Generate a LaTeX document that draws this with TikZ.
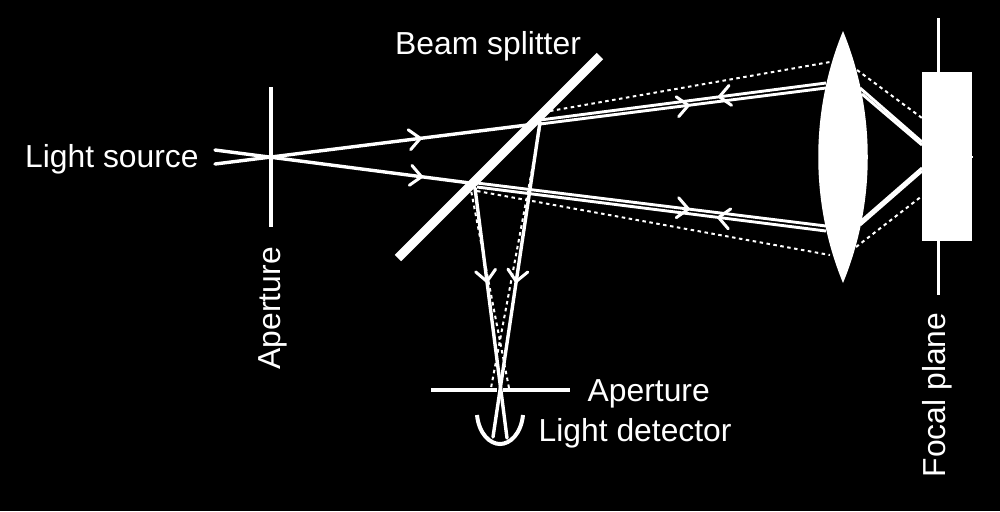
\documentclass[tikz,border=0pt]{standalone}
\usepackage{fontspec}
\setmainfont{Liberation Sans}
\usetikzlibrary{arrows.meta,decorations.markings}
\tikzset{
  ray/.style={draw=white,line width=0.034cm,line cap=round},
  thinray/.style={draw=white,line width=0.029cm},
  dots/.style={draw=white,line width=0.02cm,dash pattern=on 0.035cm off 0.035cm},
  bar/.style={draw=white,line width=0.04cm},
  label/.style={text=white,inner sep=0pt,anchor=base west,font=\fontsize{9.05}{11}\selectfont},
  fwd/.style={postaction={decorate},decoration={markings,mark=at position #1 with {\arrow[white,line width=0.03cm]{Straight Barb[length=0.11cm,width=0.2cm,round]}}}},
  bwd/.style={postaction={decorate},decoration={markings,mark=at position #1 with {\arrowreversed[white,line width=0.03cm]{Straight Barb[length=0.11cm,width=0.2cm,round]}}}}
}
\begin{document}
\begin{tikzpicture}[x=0.01cm,y=-0.01cm]
\fill[black] (0,0) rectangle (1000,511);
\useasboundingbox (0,0) rectangle (1000,511);
% points
\coordinate (srcA) at (215,164);
\coordinate (srcB) at (215,150);
\coordinate (hitU) at (527,125);
\coordinate (hitL) at (470,183);
\coordinate (uA) at (540,120);
\coordinate (uB) at (540,124);
\coordinate (lA) at (477,183);
\coordinate (lB) at (477,187);
\coordinate (lensUA) at (826,83);
\coordinate (lensUB) at (826,88);
\coordinate (lensLA) at (826,226);
\coordinate (lensLB) at (826,231);
\coordinate (rUA) at (860,88);
\coordinate (rUB) at (862,94);
\coordinate (rLA) at (860,222);
\coordinate (rLB) at (860,225);
\coordinate (fUA) at (922,142);
\coordinate (fUB) at (922,145);
\coordinate (fLA) at (922,168);
\coordinate (fLB) at (922,171);
\coordinate (dU) at (550,111);
\coordinate (dL) at (477,191);
\coordinate (dlensU) at (830,62);
\coordinate (dlensL) at (830,255);
\coordinate (drU) at (857,70);
\coordinate (drL) at (856,247);
\coordinate (dfU) at (922,118);
\coordinate (dfL) at (922,196);
\coordinate (downAs) at (541,122);
\coordinate (downAe) at (491,388);
\coordinate (downBs) at (470,185);
\coordinate (downBe) at (509,388);
\coordinate (rayAs) at (540,122);
\coordinate (rayAe) at (493,437);
\coordinate (rayBs) at (475,188);
\coordinate (rayBe) at (507,438);
% dotted rays
\draw[dots] (dU) -- (dlensU);
\draw[dots] (dL) -- (dlensL);
\draw[dots] (drU) -- (dfU);
\draw[dots] (drL) -- (dfL);
\draw[dots] (downAs) -- (downAe);
\draw[dots] (downBs) -- (downBe);
% solid rays
\draw[ray,fwd=0.663] (srcA) -- (hitU);
\draw[ray,fwd=0.816] (srcB) -- (hitL);
\draw[thinray,bwd=0.622] (uA) -- (lensUA);
\draw[thinray,fwd=0.524] (uB) -- (lensUB);
\draw[thinray,fwd=0.61] (lA) -- (lensLA);
\draw[thinray,bwd=0.688] (lB) -- (lensLB);
\draw[thinray] (rUA) -- (fUA);
\draw[thinray] (rUB) -- (fUB);
\draw[thinray] (rLA) -- (fLA);
\draw[thinray] (rLB) -- (fLB);
\draw[ray,fwd=0.511] (rayAs) -- (rayAe);
\draw[ray,fwd=0.38] (rayBs) -- (rayBe);
% apertures
\coordinate (apTop) at (271,87);
\coordinate (apBot) at (271,227);
\draw[bar] (apTop) -- (apBot);
\coordinate (ap2a) at (431,390);
\coordinate (ap2b) at (497,390);
\coordinate (ap2c) at (503,390);
\coordinate (ap2d) at (570,390);
\draw[bar] (ap2a) -- (ap2b);
\draw[bar] (ap2c) -- (ap2d);
% beam splitter
\coordinate (bsA) at (398,258);
\coordinate (bsB) at (600,56);
\draw[draw=white,line width=0.09cm] (bsA) -- (bsB);
% lens
\fill[white] (843,31) .. controls (810,111) and (810,203) .. (843,283)
             .. controls (876,203) and (876,111) .. (843,31) -- cycle;
% focal plane
\coordinate (fpTop) at (938.5,18);
\coordinate (fpBot) at (938.5,295);
\draw[bar,line width=0.032cm] (fpTop) -- (fpBot);
\fill[white] (921.6,72) rectangle (971.7,241);
\fill[white] (971,156) rectangle (973,158);
% detector
\draw[bar] (477,415) .. controls (479,434) and (490,444) .. (500,444)
           .. controls (510,444) and (521,434) .. (523,415);
% labels
\node[label] (lblBS) at (394.5,54) {Beam splitter};
\node[label] (lblLS) at (24.5,167) {Light source};
\node[label,rotate=90] (lblAp1) at (280,370) {Aperture};
\node[label] (lblAp2) at (587,401) {Aperture};
\node[label] (lblLD) at (538,441) {Light detector};
\node[label,rotate=90] (lblFP) at (945,478) {Focal plane};
\end{tikzpicture}
\end{document}
